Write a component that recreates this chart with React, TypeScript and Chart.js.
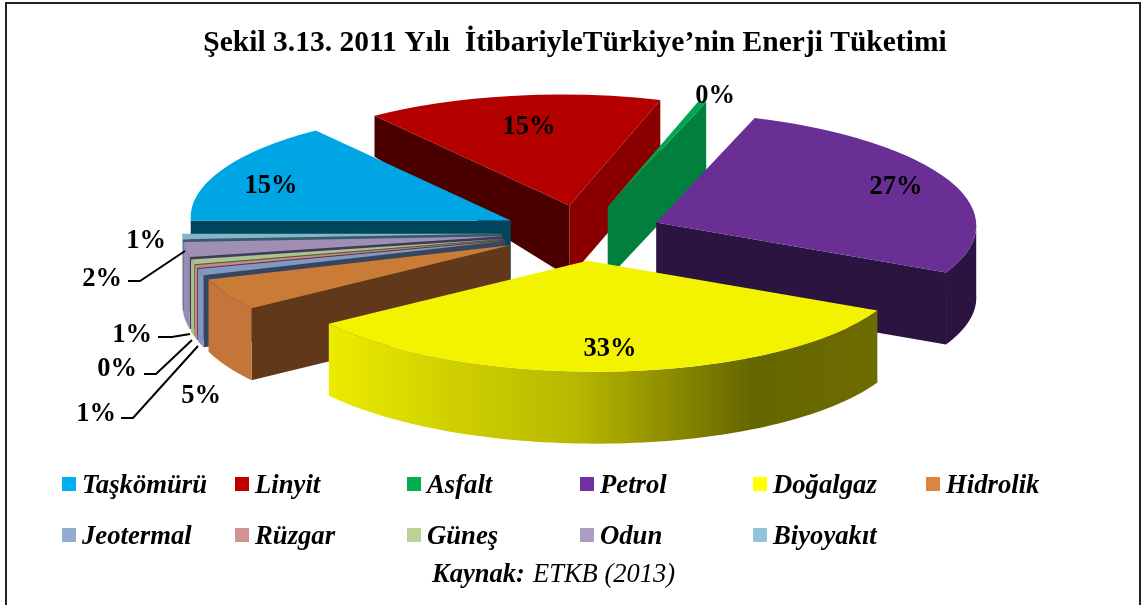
import React, { useEffect, useRef } from "react";
import { Chart, registerables } from "chart.js";

Chart.register(...registerables);

const titleText = "Şekil 3.13. 2011 Yılı  İtibariyleTürkiye’nin Enerji Tüketimi";
const categories = ["Taşkömürü", "Linyit", "Asfalt", "Petrol", "Doğalgaz", "Hidrolik", "Jeotermal", "Rüzgar", "Güneş", "Odun", "Biyoyakıt"];
const shares = [15, 15, 0.4, 27, 33, 4.6, 0.9, 0.4, 0.7, 2.2, 0.8];
const legendColors = ["#00B0F0", "#C00000", "#00B050", "#7030A0", "#FFFF00", "#DD843E", "#95ABD3", "#D19392", "#BBD197", "#AC9DC1", "#93C3D6"];
const topColors = ["#00A6E3", "#B50000", "#00A650", "#692F94", "#F3F300", "#CA7C36", "#7F99C4", "#C88684", "#A9C48D", "#A08FB5", "#84B5C8"];
const outerWallColors = ["#00465E", "#4B0000", "#00803C", "#2B1440", "#666600", "#C4763A", "#7F97BF", "#C78A89", "#A7C28A", "#9C8CB4", "#88B7CA"];
const startWallColors = ["#00465E", "#4B0000", "#00803C", "#2B1440", "#666600", "#61391A", "#37455F", "#5C3A3A", "#4F5B3F", "#42385A", "#3A5A68"];
const endWallColors = ["#00465E", "#8A0000", "#00803C", "#2B1440", "#666600", "#61391A", "#37455F", "#5C3A3A", "#4F5B3F", "#42385A", "#3A5A68"];
const paintOrder = [1, 2, 0, 3, 10, 9, 8, 7, 6, 5, 4];
const labelCenters = [[271, 186], [529, 127], [715, 96], [896, 187], [610, 349], [201, 396], [96, 414], [117, 369], [132, 335], [102, 279], [146, 241]];
const leaderLines = [
  [[128, 281], [140, 281], [185, 251]],
  [[158, 337], [172, 337], [190, 334]],
  [[144, 374], [156, 374], [192, 340]],
  [[121, 418], [133, 418], [198, 346]],
];
const legendColumns = [62, 235, 407, 580, 753, 926];
const legendRows = [484, 535];

const view = { cx: 582, cy: 233, rx: 320, ry: 111, shear: 8.5, explode: 0.25, depth: 72, farDepth: 41 };
const serif = '"Liberation Serif", "Times New Roman", serif';

function slicePlace(arc: any) {
  const mid = (arc.startAngle + arc.endAngle) / 2;
  return {
    x: view.cx + view.explode * view.rx * Math.cos(mid),
    y: view.cy + view.explode * view.ry * Math.sin(mid),
  };
}

function rimPoint(p: any, a: number) {
  return {
    x: p.x + view.rx * Math.cos(a) + view.shear * Math.sin(a),
    y: p.y + view.ry * Math.sin(a),
  };
}

function radialWall(ctx: any, p: any, angle: number, nearDepth: number, outerDepth: number, color: string) {
  const e = rimPoint(p, angle);
  ctx.fillStyle = color;
  ctx.beginPath();
  ctx.moveTo(p.x, p.y);
  ctx.lineTo(e.x, e.y);
  ctx.lineTo(e.x, e.y + outerDepth);
  ctx.lineTo(p.x, p.y + nearDepth);
  ctx.closePath();
  ctx.fill();
}

const pie3d = {
  id: "pie3d",
  beforeDraw(chart: any) {
    const { ctx } = chart;
    ctx.save();
    ctx.fillStyle = "#ffffff";
    ctx.fillRect(0, 0, chart.width, chart.height);
    ctx.strokeStyle = "#222222";
    ctx.lineWidth = 2;
    ctx.beginPath();
    ctx.moveTo(6, 605);
    ctx.lineTo(6, 3);
    ctx.lineTo(1140, 3);
    ctx.lineTo(1140, 605);
    ctx.stroke();
    ctx.restore();
  },
  beforeDatasetDraw(chart: any, args: any) {
    const { ctx } = chart;
    const arcs = chart.getDatasetMeta(args.index).data;
    paintOrder.forEach((i) => {
      const arc = arcs[i];
      const p = slicePlace(arc);
      const a0 = arc.startAngle;
      const a1 = arc.endAngle;
      ctx.save();
      const startDepth = i === 1 ? view.farDepth : view.depth;
      if (Math.cos(a0) < 0) radialWall(ctx, p, a0, view.depth, startDepth, startWallColors[i]);
      if (Math.cos(a1) > 0) radialWall(ctx, p, a1, view.depth, view.depth, endWallColors[i]);
      // outer rim, only the part that faces the viewer
      const norm = (v: number) => ((v % (2 * Math.PI)) + 2 * Math.PI) % (2 * Math.PI);
      let s = norm(a0);
      let e = s + (a1 - a0);
      if (e > 2 * Math.PI) { s -= 2 * Math.PI; e -= 2 * Math.PI; }
      const from = Math.max(s, 0);
      const to = Math.min(e, Math.PI);
      if (to > from) {
        let fill: any = outerWallColors[i];
        if (i === 4) {
          const left = rimPoint(p, to).x;
          const right = rimPoint(p, from).x;
          const g = ctx.createLinearGradient(left, 0, right, 0);
          g.addColorStop(0, "#ECEC00");
          g.addColorStop(0.22, "#D0D000");
          g.addColorStop(0.45, "#B8B800");
          g.addColorStop(0.77, "#666600");
          g.addColorStop(1, "#6C6C00");
          fill = g;
        }
        ctx.fillStyle = fill;
        ctx.beginPath();
        const steps = 80;
        for (let k = 0; k <= steps; k++) {
          const q = rimPoint(p, from + ((to - from) * k) / steps);
          if (k) ctx.lineTo(q.x, q.y); else ctx.moveTo(q.x, q.y);
        }
        for (let k = steps; k >= 0; k--) {
          const q = rimPoint(p, from + ((to - from) * k) / steps);
          ctx.lineTo(q.x, q.y + view.depth);
        }
        ctx.closePath();
        ctx.fill();
      }
      // top face: the library's own arc, projected on to the tilted plane
      const R = arc.outerRadius;
      ctx.translate(p.x, p.y);
      ctx.transform(view.rx / R, 0, view.shear / R, view.ry / R, 0, 0);
      ctx.translate(-arc.x, -arc.y);
      arc.draw(ctx);
      ctx.restore();
    });
    return false;
  },
  afterDatasetsDraw(chart: any) {
    const { ctx } = chart;
    ctx.save();
    ctx.strokeStyle = "#000000";
    ctx.lineWidth = 2;
    leaderLines.forEach((line) => {
      ctx.beginPath();
      line.forEach(([x, y], k) => (k ? ctx.lineTo(x, y) : ctx.moveTo(x, y)));
      ctx.stroke();
    });
    ctx.fillStyle = "#000000";
    ctx.textAlign = "center";
    ctx.textBaseline = "middle";
    ctx.font = `bold 26.5px ${serif}`;
    const total = shares.reduce((a, b) => a + b, 0);
    shares.forEach((v, i) => {
      ctx.fillText(`${Math.round((v / total) * 100)}%`, labelCenters[i][0], labelCenters[i][1]);
    });

    ctx.textAlign = "left";
    ctx.font = `italic bold 26.7px ${serif}`;
    categories.forEach((name, i) => {
      const col = legendColumns[i % legendColumns.length];
      const row = legendRows[i < legendColumns.length ? 0 : 1];
      ctx.fillStyle = legendColors[i];
      ctx.fillRect(col, row - 7, 14, 14);
      ctx.fillStyle = "#000000";
      ctx.fillText(name, col + 20, row + 2);
    });

    ctx.font = `italic bold 26.5px ${serif}`;
    ctx.fillText("Kaynak:", 432, 575);
    ctx.font = `italic 26.5px ${serif}`;
    ctx.fillText("ETKB (2013)", 533, 575);
    ctx.restore();
  },
};

export default function App() {
  const ref = useRef<HTMLCanvasElement>(null);
  useEffect(() => {
    const chart = new Chart(ref.current as any, {
      type: "pie",
      data: {
        labels: categories,
        datasets: [{ data: shares, backgroundColor: topColors, borderWidth: 0 }],
      },
      options: {
        responsive: false,
        animation: false,
        rotation: 270,
        layout: { padding: { left: 4 } },
        plugins: {
          legend: { display: false },
          tooltip: { enabled: false },
          title: {
            display: true,
            text: titleText,
            color: "#000000",
            font: { family: serif, size: 29.5, weight: "bold" },
            padding: { top: 26, bottom: 10 },
          },
        },
      },
      plugins: [pie3d],
    } as any);
    return () => chart.destroy();
  }, []);
  return (
    <div style={{ position: "absolute", left: 0, top: 0, width: 1146, height: 605 }}>
      <canvas ref={ref} width={1146} height={605} style={{ display: "block" }} />
    </div>
  );
}
